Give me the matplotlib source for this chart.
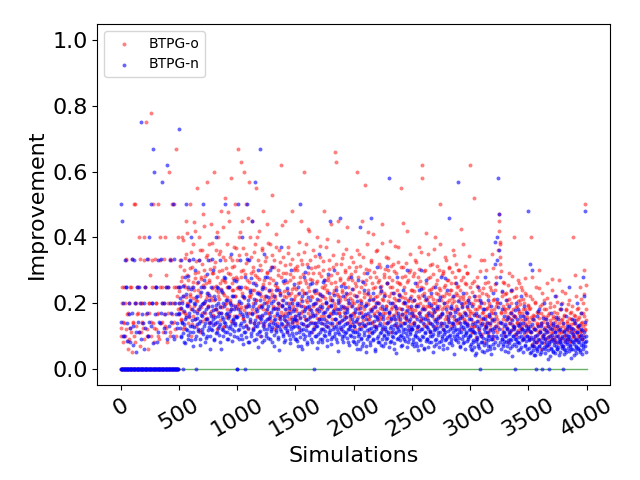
import numpy as np
import matplotlib
matplotlib.use("Agg")
import matplotlib.pyplot as plt

# Improvement values, per 500-simulation segment.
# First set in hundredths, second (interleaved) set in thousandths.
btpg_o_segments = [
    "0 10 0 25 8 0 14 20 0 12 33 0 6 17 0 9 25 0 11 5 0 14 50 0 20 8 0 13 25 0 17 40 0 7 11 0 20 14 0 33 9 0 25 75 0 12 6 0 17 20 0 78 10 0 33 14 0 8 25 0 20 12 0 50 17 0 9 33 0 14 25 0 11 20 0 40 13 0 25 8 0 17 60 0 10 33 0 14 20 0 50 25 0 12 67 0 22 18 0",
    "20 25 33 15 18 28 40 22 12 30 25 17 35 45 20 14 27 33 19 50 22 10 31 25 38 16 24 42 29 13 21 55 26 18 33 40 23 11 28 36 17 25 47 30 20 15 34 26 57 22 19 38 27 14 33 44 21 29 16 25 60 31 18 36 24 12 28 40 22 35 19 26 48 17 30 23 43 13 27 33 52 20 38 25 16 29 45 21 34 18 58 26 31 24 14 37 22 50 28 19",
    "33 25 67 20 40 18 28 63 22 45 15 30 60 25 19 35 50 27 12 33 22 57 40 17 29 24 45 20 31 14 26 38 21 55 16 28 33 19 42 23 10 30 25 36 18 48 27 13 22 34 20 29 44 17 26 21 38 15 31 24 53 19 27 12 33 22 18 41 25 14 30 20 36 16 23 62 28 19 34 13 26 22 45 17 29 11 24 37 20 15 27 32 18 23 48 14 21 30 25 16",
    "22 18 30 14 26 35 20 12 28 45 17 24 32 19 60 23 15 27 38 21 13 29 25 18 42 16 33 22 11 27 19 36 24 14 31 20 26 17 40 23 15 29 21 34 18 25 12 30 22 48 16 27 20 37 24 13 28 19 33 21 17 26 44 15 23 31 20 18 66 63 25 14 29 22 39 17 27 21 12 32 24 19 35 16 26 22 30 18 43 14 25 20 28 23 15 34 19 27 21 17",
    "20 16 26 12 31 22 60 18 28 14 35 21 17 25 45 19 13 29 23 56 16 27 20 38 15 24 11 30 22 18 33 26 14 21 41 17 25 19 28 13 36 22 16 27 20 31 15 24 18 44 21 12 28 23 17 34 19 26 14 30 22 16 25 39 18 11 27 20 32 15 23 19 29 17 24 13 37 21 26 16 22 55 18 28 14 31 20 25 17 23 15 42 19 27 21 12 30 18 24 16",
    "18 24 14 29 21 16 33 19 26 12 22 28 17 37 20 15 25 58 62 19 23 13 30 18 26 16 21 35 14 24 19 28 11 22 17 32 20 25 15 40 18 23 13 27 21 16 30 19 24 50 14 22 18 29 12 25 20 34 16 23 19 27 15 21 31 17 24 13 26 20 18 36 22 15 28 19 23 14 25 17 30 21 16 24 12 27 19 22 38 15 20 26 17 23 14 29 18 21 16 25",
    "62 15 20 11 26 17 52 13 22 18 9 28 16 21 12 24 19 14 33 10 17 23 15 20 8 26 13 18 30 16 11 22 14 19 25 12 17 35 15 21 9 18 24 13 16 28 11 20 14 45 47 38 32 17 22 12 19 15 26 10 18 23 13 16 21 8 29 14 17 11 20 15 24 12 18 40 13 16 22 10 19 14 27 11 17 21 15 12 25 13 18 9 16 20 14 23 11 17 15 19",
    "13 18 9 22 40 11 15 28 7 16 12 20 10 25 14 8 17 13 30 11 19 6 14 23 10 16 12 21 9 15 18 11 26 13 7 17 10 20 14 12 24 9 16 11 19 13 8 22 15 10 17 12 27 14 9 18 11 15 20 13 7 16 10 23 12 18 9 14 11 21 13 17 8 15 12 19 10 40 14 11 16 9 22 13 18 10 15 12 25 11 17 14 9 20 13 16 30 50 12 18",
]
btpg_o_segments_b = [
    "125 200 0 143 250 0 100 333 0 167 83 0 200 125 0 250 333 0 143 100 0 500 200 0 167 250 0 111 333 0 200 143 0 125 400 0 250 167 0 100 333 0 200 286 0 143 250 0 500 125 0 333 200 0 167 100 0 250 400 0 200 143 0 333 167 0 286 125 0 250 200 0 111 333 0 167 500 0 200 143 0 250 100 0 400 167",
    "236 184 312 147 268 205 391 173 254 128 337 219 163 285 412 196 241 158 307 226 182 354 137 263 214 446 191 276 152 328 207 174 293 239 118 362 221 187 274 145 318 256 199 433 168 281 213 154 347 229 192 265 141 302 218 176 384 247 163 291 208 136 325 252 183 417 234 171 296 212 149 358 243 188 271 126 339 224 197 263 158 305 217 182 478 249 166 287 203 144 331 238 193 276 159 312 221 185 367 244",
    "273 198 345 162 241 416 187 296 231 153 368 214 179 287 132 322 245 192 458 168 263 217 146 339 226 183 297 124 354 238 171 284 209 157 401 233 186 272 143 316 221 194 367 159 258 212 137 329 247 178 293 204 151 382 236 169 275 218 142 345 227 184 309 161 256 213 128 371 242 187 284 196 154 326 229 173 438 208 163 291 235 148 317 219 182 263 137 352 224 176 289 201 158 334 243 191 278 212 145 307",
    "243 176 312 148 227 385 193 264 158 331 212 174 287 136 354 229 187 262 151 318 204 169 426 237 182 273 143 305 218 164 291 197 126 342 231 178 267 153 314 209 186 372 224 161 283 197 139 328 245 172 256 214 147 396 233 188 271 159 302 217 166 285 208 134 347 238 179 264 191 152 319 226 183 451 204 168 277 219 145 336 232 186 258 173 294 211 157 363 228 189 272 143 308 215 164 287 199 136 325 241",
    "224 168 297 143 251 186 362 157 232 194 128 313 207 172 268 149 341 218 183 259 136 304 226 164 417 198 152 278 213 177 326 142 245 189 163 293 217 131 358 204 176 264 148 319 229 185 252 157 384 211 168 287 139 302 223 192 261 154 337 206 173 278 146 313 231 187 248 162 296 214 133 372 209 178 265 151 324 226 184 257 143 308 219 167 443 201 158 283 214 174 321 147 263 206 189 295 136 348 222 171",
    "207 163 281 142 236 178 324 157 251 196 129 303 214 172 267 148 356 223 186 245 137 298 209 164 412 192 153 276 218 171 317 139 243 187 162 289 212 128 364 201 174 258 145 312 226 183 247 156 379 208 167 284 134 297 221 189 254 151 331 203 172 271 143 305 228 184 239 161 293 215 136 347 206 177 262 149 318 224 182 253 141 301 217 166 426 198 155 279 211 173 314 146 258 204 187 291 132 342 219 169",
    "176 128 234 112 197 143 268 131 208 164 97 253 182 146 221 118 297 187 152 204 106 246 173 137 331 161 124 226 184 142 263 109 201 156 133 238 179 98 306 168 144 212 117 257 191 152 203 126 362 418 387 341 296 172 234 138 263 181 109 227 173 147 198 121 254 186 153 211 114 237 172 136 283 164 127 219 158 104 246 189 143 207 118 262 176 137 196 124 238 168 149 211 103 276 181 134 224 158 117 193",
    "143 97 186 112 158 76 213 128 164 91 147 203 118 82 172 136 106 247 153 119 89 168 134 197 102 143 78 182 127 158 94 216 138 113 163 86 148 189 107 132 274 153 96 124 171 88 142 117 204 131 79 158 109 182 126 94 147 113 236 138 84 163 121 102 178 145 91 128 196 116 153 83 137 172 108 124 96 163 139 286 118 87 149 107 184 126 98 157 132 212 114 89 143 168 103 227 136 119 254 148",
]
btpg_n_segments = [
    "50 0 45 0 0 10 0 33 0 0 25 0 14 0 0 20 0 8 0 0 17 0 13 0 33 0 0 5 0 25 0 0 11 0 20 0 75 0 0 14 0 6 0 25 0 0 17 0 10 0 40 0 0 13 0 20 0 67 0 60 0 0 25 0 8 0 33 0 0 14 0 17 0 57 0 0 20 0 11 0 25 0 62 0 0 13 0 33 0 17 0 0 50 0 9 0 20 0 14 0 0 25",
    "73 17 25 10 33 14 20 0 22 8 28 15 50 12 19 25 9 33 16 21 11 40 18 13 25 7 20 15 30 10 0 17 22 12 33 14 19 9 25 16 11 50 20 13 27 8 18 15 23 10 33 14 21 17 6 25 12 19 30 15 9 22 14 40 18 11 25 16 20 13 8 33 17 24 12 15 10 28 19 14 50 21 11 17 25 9 16 20 13 35 18 12 22 15 10 27 14 19 16 0",
    "0 50 18 12 25 33 14 20 9 40 16 22 11 28 0 17 13 50 21 8 19 33 15 24 10 45 17 12 26 14 20 57 9 18 23 13 30 16 11 21 67 15 19 8 25 14 35 12 17 22 10 28 15 19 13 24 9 16 20 12 31 14 18 7 22 15 26 11 17 13 20 9 24 16 12 37 14 19 10 21 15 8 18 27 13 16 11 23 14 19 9 17 12 30 15 20 10 18 13 16",
    "15 9 20 13 25 7 17 11 50 14 19 6 22 12 16 28 10 18 13 23 8 15 31 11 19 14 21 9 17 26 12 16 0 20 14 10 24 13 18 8 15 35 11 19 14 22 9 17 12 27 15 10 20 13 18 7 16 23 11 45 14 19 9 21 12 17 30 10 15 13 24 8 18 11 20 14 16 46 12 19 9 22 13 15 10 25 17 11 18 14 8 21 12 16 13 28 10 19 15 11",
    "13 8 18 11 22 6 15 10 27 12 17 43 9 20 14 7 16 24 11 13 19 5 15 29 10 17 12 21 8 14 46 11 18 9 23 13 16 6 20 12 15 31 10 17 8 14 25 11 19 13 7 16 22 10 12 18 9 26 14 11 17 58 8 20 13 15 10 23 12 6 16 19 11 14 28 9 17 12 21 10 15 13 7 18 24 11 14 9 20 12 16 10 30 13 8 17 11 15 19 12",
    "12 17 8 21 14 10 26 11 15 7 19 13 24 9 16 12 30 10 18 14 6 22 11 15 13 27 9 17 12 20 8 14 11 23 16 10 18 13 7 25 12 15 9 19 14 11 21 8 16 13 28 10 17 12 6 20 14 11 18 9 24 13 15 10 46 12 17 8 19 14 11 22 13 16 9 26 12 10 18 15 57 11 14 7 20 13 16 10 23 12 8 17 14 11 19 13 9 21 15 12",
    "10 15 6 19 12 8 22 11 14 4 17 9 13 25 7 16 11 0 20 10 14 8 18 12 5 15 28 9 13 11 21 7 16 10 14 6 19 12 9 23 11 15 8 17 13 10 33 40 58 47 36 28 20 14 9 18 11 7 16 13 10 21 8 15 12 5 19 11 14 9 17 24 7 13 10 16 12 0 20 9 15 11 8 18 13 6 14 22 10 12 16 9 19 11 7 15 13 10 17 12",
    "48 9 32 13 5 11 7 30 15 8 12 4 10 0 16 6 9 13 18 7 11 5 14 8 0 10 12 20 6 9 15 7 11 3 13 8 0 10 17 6 12 9 14 5 8 11 22 7 10 13 6 15 9 4 12 8 18 10 7 14 0 11 6 9 16 5 12 8 10 13 25 7 9 11 6 15 8 12 4 10 14 7 9 20 11 6 13 8 10 5 12 17 9 7 28 11 22 48 8 10",
]
btpg_n_segments_b = [
    "0 143 0 0 200 0 100 0 0 250 0 83 0 0 167 0 125 0 0 333 0 71 0 0 200 0 111 0 0 143 0 250 0 0 91 0 167 0 0 200 0 125 0 0 333 0 100 0 0 143 0 500 0 0 200 0 77 0 0 167 0 250 0 0 111 0 143 0 0 333 0 200 0 0 125 0 167 0 0 90 0 250 0 0 200 0 143 0 0 100 0 333 0 0 167 0 125 0 0 200",
    "167 123 214 95 186 143 252 108 174 136 79 228 157 118 193 102 283 168 131 205 87 241 149 112 333 176 126 198 91 218 154 137 263 114 182 145 72 234 163 121 197 104 250 171 139 206 93 287 152 116 189 128 224 98 161 143 333 119 178 134 86 213 156 107 194 142 247 125 169 101 188 137 61 232 158 119 201 143 276 112 167 129 91 208 153 124 250 176 106 193 138 83 221 147 115 182 134 267 158 96",
    "158 117 206 89 173 134 248 103 165 127 74 219 146 112 187 96 333 159 124 198 82 234 141 108 276 167 119 191 86 211 147 129 254 106 176 138 67 226 154 114 189 98 243 162 131 199 88 278 145 109 182 121 217 93 153 136 301 113 171 127 81 206 149 102 186 135 239 118 162 96 181 129 58 224 151 113 194 137 268 106 159 123 86 201 146 117 246 169 101 186 131 79 213 141 109 176 127 259 152 91",
    "147 108 193 83 162 126 231 96 154 118 69 206 137 104 176 89 294 148 116 187 76 219 132 101 258 156 111 179 81 198 138 121 237 99 164 129 62 211 143 106 176 91 226 151 122 187 82 263 136 102 171 113 203 87 143 127 287 105 159 118 75 193 139 95 174 126 224 109 151 89 169 121 54 209 141 105 181 128 251 99 148 114 80 188 136 109 229 157 94 173 122 73 199 131 102 164 118 242 142 84",
    "131 96 172 74 144 112 206 85 137 105 61 184 122 93 157 79 263 132 103 167 68 195 118 90 231 139 99 159 72 176 123 108 211 88 146 115 55 188 127 94 157 81 201 134 109 167 73 236 121 91 152 101 181 77 127 113 312 94 142 105 67 172 124 85 155 112 199 97 134 79 151 108 48 186 126 93 161 114 224 88 132 102 71 167 121 97 204 139 84 154 109 65 177 117 91 146 105 215 126 75",
    "121 89 159 68 133 103 191 79 127 97 56 170 113 86 145 73 243 122 95 154 63 180 109 83 213 128 91 147 66 163 114 100 195 81 135 106 51 173 117 87 145 75 186 124 101 154 67 218 112 84 140 93 167 71 117 104 276 87 131 97 62 159 115 79 143 103 184 90 124 73 139 100 44 172 116 86 149 105 207 81 122 94 66 154 112 90 188 128 78 142 101 60 163 108 84 135 97 199 116 69",
    "103 76 136 58 114 88 164 67 109 83 48 146 97 74 124 62 208 105 81 132 54 154 93 71 183 110 78 126 57 140 98 86 167 69 116 91 44 148 100 75 124 64 318 386 262 213 94 187 72 120 80 143 61 101 89 237 75 112 83 53 136 98 68 123 88 158 77 106 63 119 86 38 147 99 74 128 90 178 69 105 81 57 132 96 77 161 110 67 122 87 51 140 93 72 116 83 171 100 59 124",
    "86 63 113 48 95 73 137 56 91 69 40 122 81 62 103 52 174 87 68 110 45 129 78 59 153 92 65 105 47 117 82 72 139 58 97 76 37 124 84 63 103 53 133 89 72 110 48 156 80 60 100 67 119 51 84 74 197 62 94 69 44 114 82 56 102 74 131 64 89 52 99 71 31 123 83 61 106 75 148 58 87 67 47 110 80 64 134 91 56 101 72 43 116 77 60 96 69 142 83 49",
]
segment_length = 500
series_labels = ["BTPG-o", "BTPG-n"]
x_ticks = [0, 500, 1000, 1500, 2000, 2500, 3000, 3500, 4000]
y_ticks = [0.0, 0.2, 0.4, 0.6, 0.8, 1.0]


def build(segments, scale, offset):
    xs, ys = [], []
    for k, seg in enumerate(segments):
        vals = np.array([float(v) for v in seg.split()]) / scale
        n = len(vals)
        xs.append(k * segment_length + (np.arange(n) + offset) * segment_length / n)
        ys.append(vals)
    return np.concatenate(xs), np.concatenate(ys)


xo1, yo1 = build(btpg_o_segments, 100.0, 0.0)
xo2, yo2 = build(btpg_o_segments_b, 1000.0, 0.5)
xn1, yn1 = build(btpg_n_segments, 100.0, 0.0)
xn2, yn2 = build(btpg_n_segments_b, 1000.0, 0.5)
xo, yo = np.concatenate([xo1, xo2]), np.concatenate([yo1, yo2])
xn, yn = np.concatenate([xn1, xn2]), np.concatenate([yn1, yn2])
order_o = np.argsort(xo, kind="stable")
order_n = np.argsort(xn, kind="stable")
xo, yo = xo[order_o], yo[order_o]
xn, yn = xn[order_n], yn[order_n]

fig = plt.figure(figsize=(6.4, 4.8), dpi=100)
ax = fig.add_axes([0.152, 0.198, 0.801, 0.752])
ax.plot([0, 4000], [0, 0], color="g", alpha=0.6, lw=1, zorder=1)
ax.scatter(xo, yo, s=8, color="r", alpha=0.5, label=series_labels[0], zorder=2, linewidths=0)
ax.scatter(xn, yn, s=8, color="b", alpha=0.6, label=series_labels[1], zorder=3, linewidths=0)
ax.set_ylim(-0.05, 1.05)
ax.set_xlim(-200, 4200)
ax.set_xticks(x_ticks)
ax.set_yticks(y_ticks)
ax.tick_params(axis="both", labelsize=16)
plt.setp(ax.get_xticklabels(), rotation=30)
ax.set_xlabel("Simulations", fontsize=16)
ax.set_ylabel("Improvement", fontsize=16)
ax.legend(loc="upper left", fontsize=10)
fig.savefig("out.png", dpi=100)
